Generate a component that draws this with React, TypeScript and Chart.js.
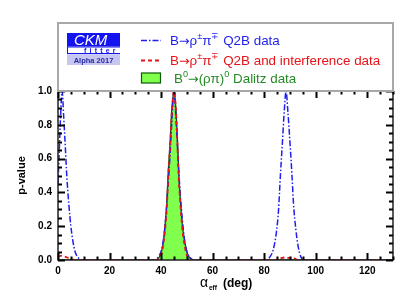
import React, { useEffect, useRef } from "react";
import { Chart, registerables } from "chart.js";

Chart.register(...registerables);

const FONT = '"Liberation Sans", Arial, Helvetica, sans-serif';
const ARROW_FONT = '"DejaVu Sans", sans-serif';

// alpha_eff (deg) values and p-values
const dalitzAlpha = [0, 38, 39, 40, 41, 41.5, 42.2, 42.7, 43.5, 44.1, 44.6, 45, 45.4, 45.9, 46.4, 46.9, 47.6, 48.3, 49.2, 50, 51, 52.5, 130];
const dalitzP = [0, 0, 0.01, 0.04, 0.12, 0.2, 0.33, 0.5, 0.7, 0.88, 0.96, 1.0, 0.96, 0.86, 0.7, 0.5, 0.33, 0.2, 0.11, 0.05, 0.015, 0, 0];

const q2bIntAlpha = [0, 1, 2.5, 4, 5.5, 7, 38, 39.5, 40.5, 41.5, 42.3, 42.8, 43.6, 44.2, 45, 45.8, 46.3, 46.8, 47.5, 48.2, 49.2, 50.2, 52, 84, 86, 88, 89.5, 91, 93, 130];
const q2bIntP = [0.02, 0.025, 0.02, 0.012, 0.004, 0, 0, 0.02, 0.06, 0.17, 0.33, 0.5, 0.7, 0.88, 1.0, 0.88, 0.7, 0.5, 0.33, 0.19, 0.08, 0.02, 0, 0, 0.008, 0.015, 0.012, 0.015, 0, 0];

const q2bAlpha = [0, 0.5, 1, 1.6, 2.2, 2.8, 3.4, 4.2, 5, 5.8, 6.6, 7.5, 8.5, 9.5, 37.5, 39, 40, 41, 41.8, 42.5, 43.4, 44.1, 45, 45.9, 46.6, 47.3, 48.2, 49, 50, 51.2, 53, 81, 82.3, 83.5, 84.8, 85.6, 86.3, 87.1, 87.8, 88.5, 89.2, 90, 90.8, 91.4, 92.3, 93.2, 94.2, 95.5, 130];
const q2bP = [0.45, 0.65, 0.85, 1.0, 0.85, 0.68, 0.5, 0.33, 0.2, 0.11, 0.05, 0.02, 0.005, 0, 0, 0.02, 0.05, 0.13, 0.25, 0.4, 0.6, 0.8, 1.0, 0.8, 0.6, 0.42, 0.25, 0.13, 0.05, 0.015, 0, 0, 0.02, 0.06, 0.17, 0.3, 0.5, 0.7, 0.88, 1.0, 0.88, 0.7, 0.5, 0.33, 0.18, 0.08, 0.02, 0, 0];

const xMin = 0;
const xMax = 130;
const yMin = 0;
const yMax = 1;
const xTickValues = [0, 20, 40, 60, 80, 100, 120];
const yTickValues = [0, 0.2, 0.4, 0.6, 0.8, 1.0];

type Seg = { t: string; sup?: boolean; sub?: boolean; arrow?: boolean };

const legendQ2B: Seg[] = [{ t: "B" }, { t: "→", arrow: true }, { t: "ρ" }, { t: "±", sup: true }, { t: "π" }, { t: "∓", sup: true }, { t: " Q2B data" }];
const legendQ2BInt: Seg[] = [{ t: "B" }, { t: "→", arrow: true }, { t: "ρ" }, { t: "±", sup: true }, { t: "π" }, { t: "∓", sup: true }, { t: " Q2B and interference data" }];
const legendDalitz: Seg[] = [{ t: "B" }, { t: "0", sup: true }, { t: "→", arrow: true }, { t: "(ρπ)" }, { t: "0", sup: true }, { t: " Dalitz data" }];

const BLUE = "#1f1fee";
const RED = "#e4141a";
const GREEN_TXT = "#268a26";
const GREEN_FILL = "#80ff4c";
const GREEN_LINE = "#0a5a0a";

function drawRich(ctx: CanvasRenderingContext2D, x: number, y: number, segs: Seg[], size: number, color: string) {
  let cx = x;
  ctx.fillStyle = color;
  ctx.textBaseline = "alphabetic";
  ctx.textAlign = "left";
  for (const s of segs) {
    const sz = s.sup || s.sub ? size * 0.68 : s.arrow ? size * 0.95 : size;
    ctx.font = `${sz}px ${s.arrow ? ARROW_FONT : FONT}`;
    const dy = s.sup ? -size * 0.38 : s.sub ? size * 0.25 : 0;
    ctx.fillText(s.t, cx, y + dy);
    cx += ctx.measureText(s.t).width;
  }
}

const decorPlugin = {
  id: "decor",
  afterDraw(chart: any) {
    const { ctx, chartArea: a, scales } = chart;
    const xs = scales.x;
    const ys = scales.y;
    ctx.save();
    // frame
    ctx.strokeStyle = "#222";
    ctx.lineWidth = 1.5;
    ctx.strokeRect(a.left, a.top, a.right - a.left, a.bottom - a.top);
    // inward ticks
    ctx.strokeStyle = "#000";
    ctx.lineWidth = 2;
    const seg = (x1: number, y1: number, x2: number, y2: number) => {
      ctx.beginPath();
      ctx.moveTo(x1, y1);
      ctx.lineTo(x2, y2);
      ctx.stroke();
    };
    for (let i = 0; i * 5 <= xMax; i++) {
      const v = i * 5;
      const px = Math.round(xs.getPixelForValue(v)) + 0.5;
      const len = v % 20 === 0 ? 7 : 3.5;
      seg(px, a.bottom, px, a.bottom - len);
      seg(px, a.top, px, a.top + len);
    }
    for (let i = 0; i <= 20; i++) {
      const v = i * 0.05;
      const py = Math.round(ys.getPixelForValue(v)) + 0.5;
      const len = i % 4 === 0 ? 7 : 4;
      seg(a.left, py, a.left + len, py);
      seg(a.right, py, a.right - len, py);
    }

    // legend box
    ctx.strokeStyle = "#a8a8a8";
    ctx.lineWidth = 2;
    ctx.strokeRect(a.left, 23, a.right - a.left, a.top - 23);

    // logo
    ctx.fillStyle = "#1414f0";
    ctx.fillRect(67, 33, 53, 13.5);
    ctx.fillStyle = "#fff";
    ctx.font = `italic 15px ${FONT}`;
    ctx.textAlign = "left";
    ctx.textBaseline = "alphabetic";
    ctx.fillText("CKM", 74, 45);
    ctx.fillStyle = "#1414f0";
    ctx.fillRect(67, 46.5, 53, 1);
    ctx.fillRect(67, 46.5, 1, 7);
    ctx.fillRect(67, 53, 53, 1.2);
    ctx.font = `bold 7px ${FONT}`;
    (ctx as any).letterSpacing = "3.2px";
    ctx.fillText("fitter", 84, 52.5);
    (ctx as any).letterSpacing = "0px";
    ctx.fillStyle = "#c6c6f0";
    ctx.fillRect(67, 55, 53, 10);
    ctx.fillStyle = "#2a2aa8";
    ctx.font = `bold 7.5px ${FONT}`;
    ctx.textAlign = "center";
    ctx.fillText("Alpha 2017", 93.5, 63);

    // legend samples
    ctx.lineWidth = 1.5;
    ctx.strokeStyle = BLUE;
    ctx.setLineDash([6, 2, 1.5, 2]);
    seg(141, 40.5, 161, 40.5);
    ctx.strokeStyle = RED;
    ctx.lineWidth = 1.8;
    ctx.setLineDash([4, 3]);
    seg(141, 60.5, 161, 60.5);
    ctx.setLineDash([]);
    ctx.fillStyle = GREEN_FILL;
    ctx.fillRect(141.5, 73, 19, 10);
    ctx.strokeStyle = GREEN_LINE;
    ctx.lineWidth = 1.2;
    ctx.strokeRect(141.5, 73, 19, 10);

    drawRich(ctx, 170, 44.5, legendQ2B, 13.4, BLUE);
    drawRich(ctx, 170, 64.5, legendQ2BInt, 13.4, RED);
    drawRich(ctx, 174, 82.5, legendDalitz, 13.4, GREEN_TXT);

    // x axis title
    ctx.fillStyle = "#000";
    ctx.textAlign = "left";
    ctx.font = `14px ${FONT}`;
    ctx.fillText("α", 200, 286.5);
    ctx.font = `bold 6.5px ${FONT}`;
    ctx.fillText("eff", 209, 290);
    ctx.font = `bold 12px ${FONT}`;
    ctx.fillText("(deg)", 223, 286.5);
    ctx.restore();
  },
};

function pts(xs: number[], ys: number[]) {
  return xs.map((x, i) => ({ x, y: ys[i] }));
}

export default function App() {
  const ref = useRef<HTMLCanvasElement | null>(null);
  useEffect(() => {
    if (!ref.current) return;
    const chart = new Chart(ref.current, {
      type: "line",
      data: {
        datasets: [
          {
            label: "B→ρ±π∓ Q2B and interference data",
            data: pts(q2bIntAlpha, q2bIntP),
            borderColor: RED,
            borderWidth: 1.8,
            borderDash: [4, 3],
            pointRadius: 0,
            fill: false,
            cubicInterpolationMode: "monotone",
            order: 1,
          },
          {
            label: "B→ρ±π∓ Q2B data",
            data: pts(q2bAlpha, q2bP),
            borderColor: BLUE,
            borderWidth: 1.5,
            borderDash: [6, 2, 1.5, 2],
            pointRadius: 0,
            fill: false,
            cubicInterpolationMode: "monotone",
            order: 2,
          },
          {
            label: "B0→(ρπ)0 Dalitz data",
            data: pts(dalitzAlpha, dalitzP),
            borderColor: GREEN_LINE,
            backgroundColor: GREEN_FILL,
            borderWidth: 1.3,
            pointRadius: 0,
            fill: "origin",
            cubicInterpolationMode: "monotone",
            order: 3,
          },
        ],
      },
      options: {
        responsive: false,
        animation: false,
        events: [],
        layout: { padding: { left: 0, right: 21, top: 91, bottom: 0 } },
        plugins: { legend: { display: false }, tooltip: { enabled: false } },
        scales: {
          x: {
            type: "linear",
            min: xMin,
            max: xMax,
            afterBuildTicks: (s: any) => {
              s.ticks = xTickValues.map((v) => ({ value: v }));
            },
            afterFit: (s: any) => {
              s.height = 43;
            },
            grid: { display: false, drawTicks: false },
            border: { display: false },
            ticks: {
              padding: 5,
              autoSkip: false,
              maxRotation: 0,
              color: "#000",
              font: { family: FONT, size: 10, weight: "bold" },
              callback: (v: any) => String(v),
            },
          },
          y: {
            min: yMin,
            max: yMax,
            afterBuildTicks: (s: any) => {
              s.ticks = yTickValues.map((v) => ({ value: v }));
            },
            afterFit: (s: any) => {
              s.width = 58;
            },
            grid: { display: false, drawTicks: false },
            border: { display: false },
            ticks: {
              padding: 6,
              autoSkip: false,
              color: "#000",
              font: { family: FONT, size: 10, weight: "bold" },
              callback: (v: any) => Number(v).toFixed(1),
            },
            title: {
              display: true,
              text: "p-value",
              color: "#000",
              font: { family: FONT, size: 11, weight: "bold" },
              padding: { top: 15, bottom: 0 },
            },
          },
        },
      },
      plugins: [decorPlugin],
    } as any);
    return () => chart.destroy();
  }, []);
  return (
    <div style={{ position: "fixed", left: 0, top: 0, width: 414, height: 303, background: "#fff" }}>
      <canvas ref={ref} width={414} height={303} style={{ width: 414, height: 303, display: "block" }} />
    </div>
  );
}
